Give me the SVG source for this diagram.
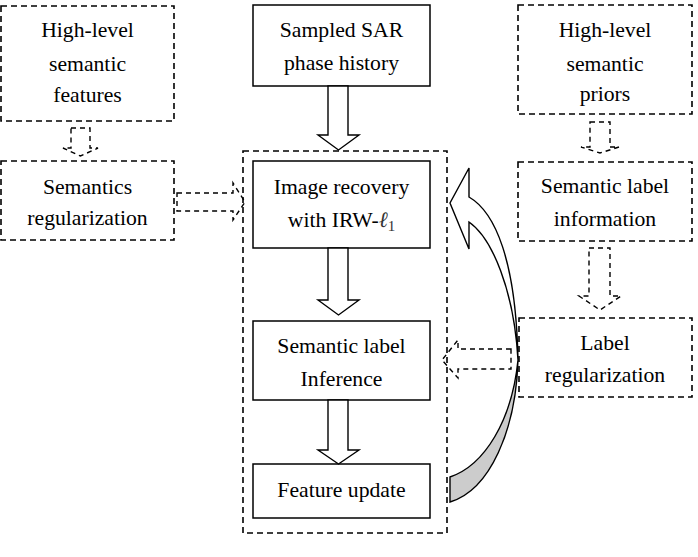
<svg xmlns="http://www.w3.org/2000/svg" width="698" height="557" viewBox="0 0 698 557">
<style>
.dash{fill:none;stroke:#000;stroke-width:1.6;stroke-dasharray:6 4}
.solid{fill:#fff;stroke:#000;stroke-width:1.5}
.darr{fill:none;stroke:#000;stroke-width:1.4;stroke-dasharray:5 4}
.sarr{fill:#fff;stroke:#000;stroke-width:1.4;stroke-linejoin:miter}
.t{font-family:"Liberation Serif",serif;font-size:21.7px;fill:#000;text-anchor:middle}
</style>
<rect width="698" height="557" fill="#fff"/>
<g id="container"><rect class="dash" x="243" y="151" width="204" height="382"/></g>
<g id="hl-features"><rect class="dash" x="1" y="6" width="173" height="115"/>
<text class="t" x="87.5" y="37">High-level</text><text class="t" x="87.5" y="71">semantic</text><text class="t" x="87.5" y="102">features</text></g>
<g id="sem-reg"><rect class="dash" x="1" y="161" width="173" height="79"/>
<text class="t" x="87.5" y="194">Semantics</text><text class="t" x="87.5" y="225">regularization</text></g>
<g id="sar"><rect class="solid" x="253" y="5" width="177" height="81"/>
<text class="t" x="341.5" y="37">Sampled SAR</text><text class="t" x="341.5" y="70">phase history</text></g>
<g id="recovery"><rect class="solid" x="253" y="161" width="177" height="87"/>
<text class="t" x="341.5" y="194">Image recovery</text><text class="t" x="341.5" y="227">with IRW-<tspan font-style="italic" fill="#333">ℓ</tspan><tspan font-size="15" dy="4" fill="#333">1</tspan></text></g>
<g id="inference"><rect class="solid" x="253" y="321" width="177" height="79"/>
<text class="t" x="341.5" y="353">Semantic label</text><text class="t" x="341.5" y="386">Inference</text></g>
<g id="feature-update"><rect class="solid" x="253" y="464" width="177" height="54"/>
<text class="t" x="341.5" y="497">Feature update</text></g>
<g id="hl-priors"><rect class="dash" x="518" y="5" width="174" height="109"/>
<text class="t" x="605" y="37">High-level</text><text class="t" x="605" y="71">semantic</text><text class="t" x="605" y="101">priors</text></g>
<g id="label-info"><rect class="dash" x="518" y="162" width="174" height="79"/>
<text class="t" x="605" y="193">Semantic label</text><text class="t" x="605" y="226">information</text></g>
<g id="label-reg"><rect class="dash" x="519" y="318" width="173" height="79"/>
<text class="t" x="605" y="350">Label</text><text class="t" x="605" y="382">regularization</text></g>
<g id="connectors">
<path class="sarr" d="M328,86 L348,86 L348,135 L359,135 L338.5,150 L318,135 L328,135 Z"/>
<path class="sarr" d="M328,248 L348,248 L348,300 L359,300 L338.5,315 L318,300 L328,300 Z"/>
<path class="sarr" d="M328,400 L348,400 L348,450 L359,450 L338.5,464 L318,450 L328,450 Z"/>
<path class="darr" d="M71,128 L90,128 L90,148 L98,148 L80.5,156 L63,148 L71,148 Z"/>
<path class="darr" d="M590,122 L610,122 L610,147 L619,147 L600,153 L581,147 L590,147 Z"/>
<path class="darr" d="M589,248 L610,248 L610,296 L621,296 L600,310 L579,296 L589,296 Z"/>
<path class="darr" d="M177,193 L233,193 L233,183 L245,202 L233,220 L233,211 L177,211 Z"/>
<path class="darr" d="M511,349 L458,349 L458,340 L442,360 L458,378 L458,369 L511,369 Z"/>
<path d="M518,360 C516,430 490,490 450,502 L450,477 C485,465 512,420 518,360 Z" fill="#cccccc" stroke="#000" stroke-width="1.4"/>
<path d="M469,197 L469,168 L450,203 L469,249 L469,222 C492,238 514,290 518,360 C516,260 495,212 469,197 Z" fill="#fff" stroke="#000" stroke-width="1.4" stroke-linejoin="miter"/>
</g>
</svg>
